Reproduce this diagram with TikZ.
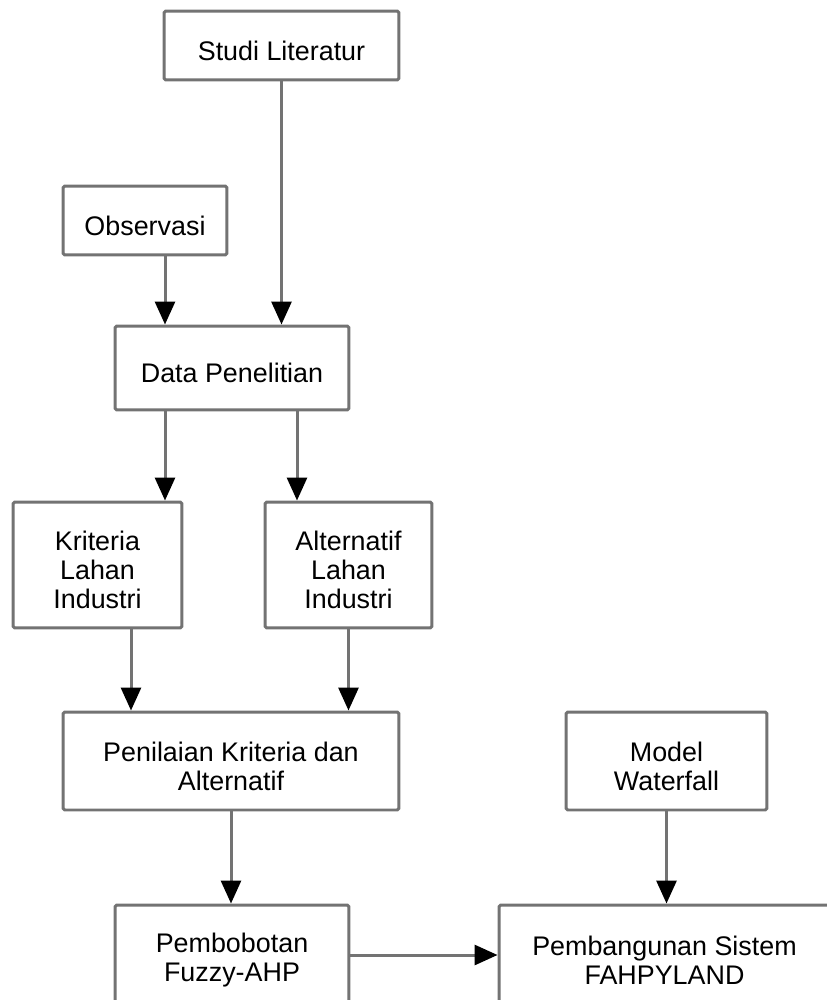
\documentclass[tikz,border=0pt]{standalone}
\usepackage{fontspec}
\setmainfont{Liberation Sans}
\usetikzlibrary{arrows.meta,positioning,calc}
\definecolor{linegray}{RGB}{115,115,115}
\newcommand{\tstrut}{\rule{0pt}{16.8pt}}
\tikzset{
  box/.style={draw=linegray, line width=0.06cm, rounded corners=1pt, fill=white,
    align=center, inner sep=2pt, font=\fontsize{15.3}{16.4}\selectfont},
  arr/.style={draw=linegray, line width=0.06cm,
    -{Triangle[length=0.46cm,width=0.4cm,black]}}
}

\begin{document}
\begin{tikzpicture}[x=0.02cm, y=-0.02cm]
  \useasboundingbox (0,0) rectangle (826,1000);
  % input boxes
  \node[box, minimum width=4.7cm, minimum height=1.38cm] (studi) at (281.5,45.5) {\tstrut Studi Literatur};
  \node[box, minimum width=3.28cm, minimum height=1.38cm] (obs) at (145,220.5) {\tstrut Observasi};
  \node[box, minimum width=4.68cm, minimum height=1.68cm] (data) at (232,368) {\tstrut Data Penelitian};
  % criteria and alternatives
  \node[box, minimum width=3.38cm, minimum height=2.52cm] (krit) at (97.5,565) {\tstrut Kriteria\\Lahan\\Industri};
  \node[box, minimum width=3.34cm, minimum height=2.52cm] (alt) at (348.5,565) {\tstrut Alternatif\\Lahan\\Industri};
  \node[box, minimum width=6.72cm, minimum height=1.96cm] (nilai) at (231,761) {\tstrut Penilaian Kriteria dan\\Alternatif};
  \node[box, minimum width=4.02cm, minimum height=1.96cm] (model) at (666.5,761) {\tstrut Model\\Waterfall};
  % output boxes
  \node[box, minimum width=4.68cm, minimum height=2.0cm] (bobot) at (232,955) {\tstrut Pembobotan\\Fuzzy-AHP};
  \node[box, minimum width=6.62cm, minimum height=2.0cm] (bangun) at (664.5,955) {\tstrut Pembangunan Sistem\\FAHPYLAND};
  % arrows
  \draw[arr] (studi.south) -- (studi.south |- data.north);
  \draw[arr] (obs.south -| 165,0) -- (data.north -| 165,0);
  \draw[arr] (data.south -| 165,0) -- (krit.north -| 165,0);
  \draw[arr] (data.south -| 297,0) -- (alt.north -| 297,0);
  \draw[arr] (krit.south -| 131,0) -- (nilai.north -| 131,0);
  \draw[arr] (alt.south) -- (alt.south |- nilai.north);
  \draw[arr] (nilai.south) -- (nilai.south |- bobot.north);
  \draw[arr] (model.south) -- (model.south |- bangun.north);
  \draw[arr] (bobot.east) -- (bobot.east -| bangun.west);
\end{tikzpicture}
\end{document}
